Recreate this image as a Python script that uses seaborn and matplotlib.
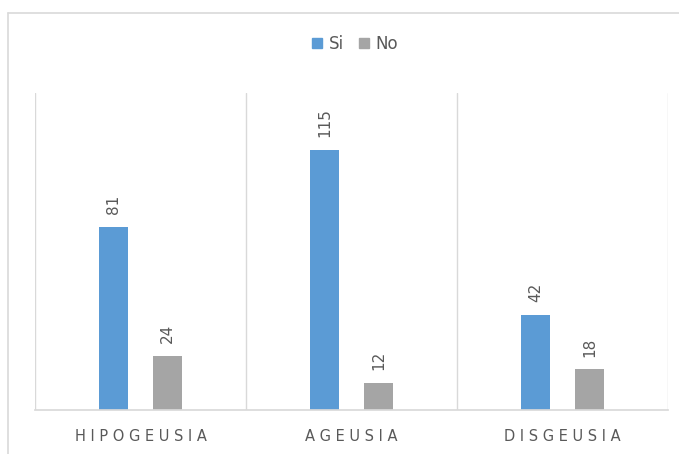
import matplotlib.pyplot as plt
import matplotlib.patches as mpatches
import pandas as pd
import seaborn as sns

categories = ["HIPOGEUSIA", "AGEUSIA", "DISGEUSIA"]
si_values = [81, 115, 42]
no_values = [24, 12, 18]
series = ["Si", "No"]

colors = {"Si": "#5B9BD5", "No": "#A5A5A5"}
text_color = "#595959"
line_color = "#D9D9D9"

df = pd.DataFrame({
    "cat": categories * 2,
    "grp": ["Si"] * len(categories) + ["No"] * len(categories),
    "val": si_values + no_values,
})

sns.set_theme(style="white")
plt.rcParams["font.family"] = ["DejaVu Sans"]

fig = plt.figure(figsize=(6.79, 4.54), dpi=100)
ax = fig.add_axes([35 / 679, 44 / 454, 633 / 679, 317 / 454])

sns.barplot(data=df, x="cat", y="val", hue="grp", hue_order=series,
            palette=colors, width=0.51, gap=0.45, ax=ax, legend=False,
            saturation=1, edgecolor="none")

for c in ax.containers:
    ax.bar_label(c, rotation=90, padding=9, color=text_color, fontsize=11)

ax.set_ylim(0, 140)
ax.set_xlim(-0.5, len(categories) - 0.5)
ax.set_yticks([])
ax.set_xlabel("")
ax.set_ylabel("")
ax.set_xticks(range(len(categories)))
ax.set_xticklabels([" ".join(c) for c in categories], color=text_color, fontsize=10.5)
ax.tick_params(axis="x", length=0, pad=14)

for s in ["top", "right", "left"]:
    ax.spines[s].set_visible(False)
ax.spines["bottom"].set_color(line_color)
for xv in [x - 0.5 for x in range(len(categories) + 1)]:
    ax.axvline(xv, color=line_color, lw=1, zorder=0)

# outer chart frame (partially cropped in the reference)
fig.add_artist(plt.Line2D([8 / 679, 8 / 679], [0, 1 - 13 / 454], color=line_color, lw=1.2))
fig.add_artist(plt.Line2D([8 / 679, 1], [1 - 13 / 454, 1 - 13 / 454], color=line_color, lw=1.2))

handles = [mpatches.Patch(color=colors[s], label=s) for s in series]
fig.legend(handles=handles, loc="center", bbox_to_anchor=(355 / 679, 1 - 44 / 454),
           ncol=2, frameon=False, fontsize=12, handlelength=0.6, handleheight=0.6,
           handletextpad=0.4, columnspacing=0.9, labelcolor=text_color)

fig.savefig("out.png", dpi=100)
